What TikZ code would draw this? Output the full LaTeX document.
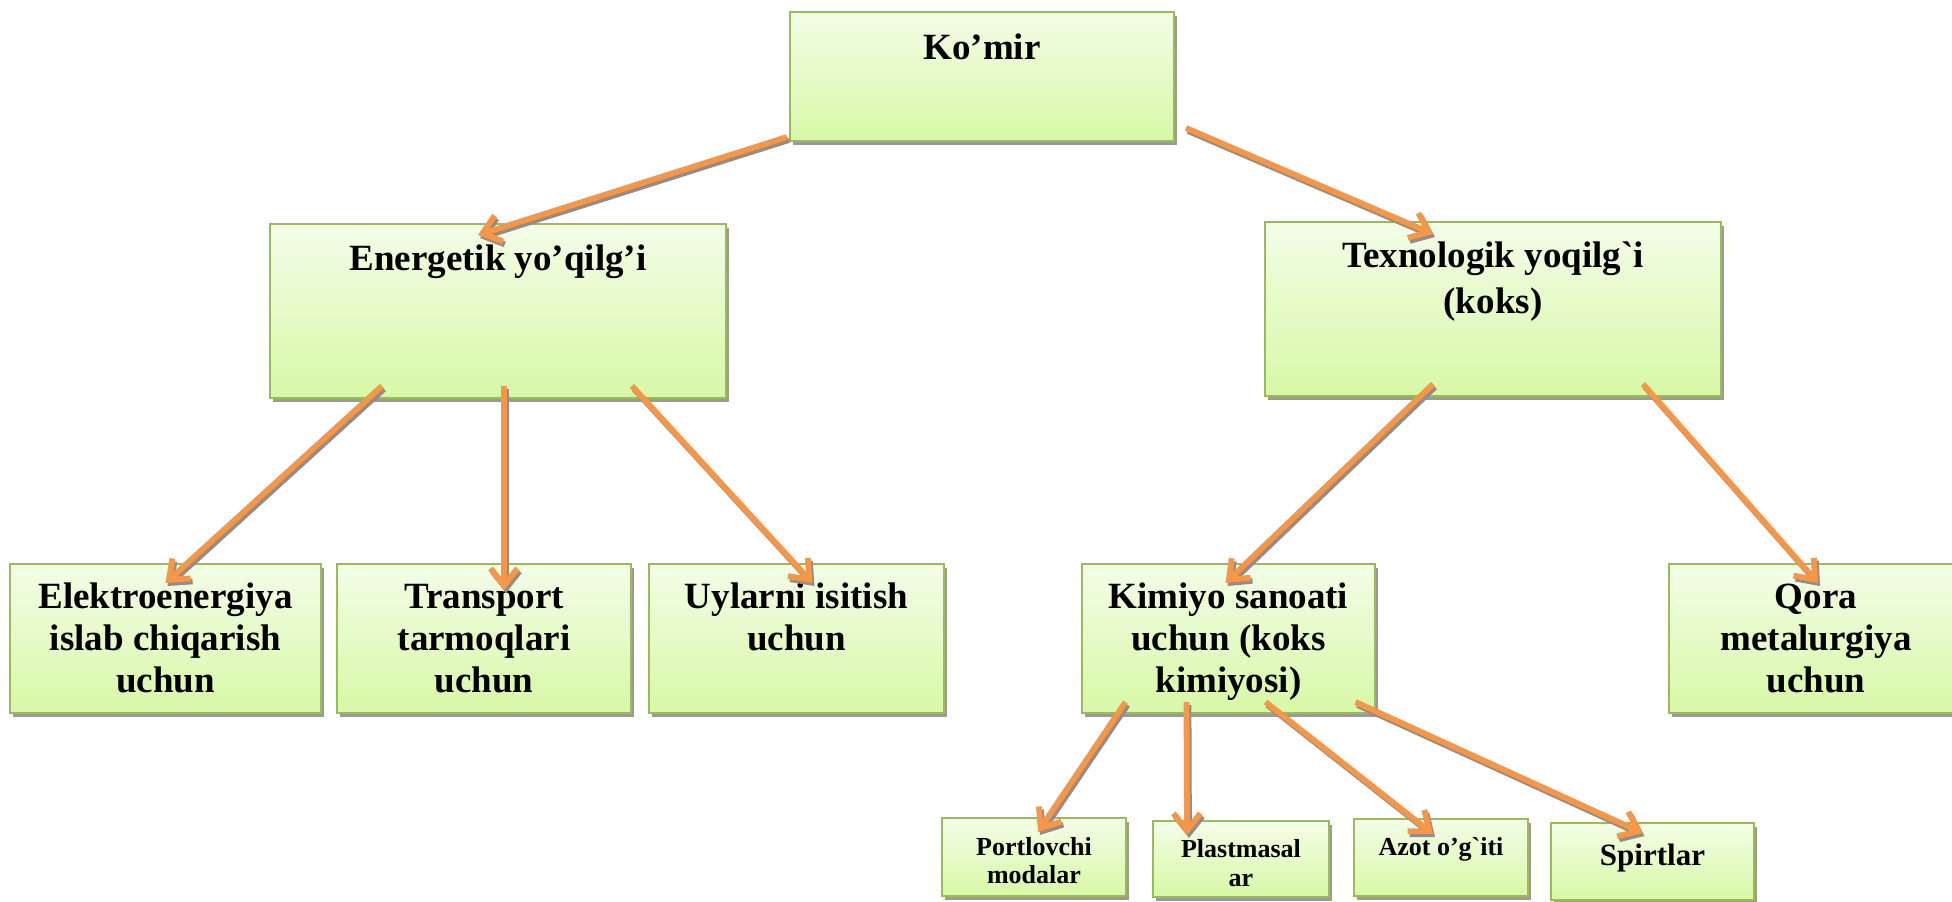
\documentclass[tikz,border=0pt]{standalone}
\usepackage{fontspec}
\setmainfont{Liberation Serif}[Ligatures=TeXOff]
\usetikzlibrary{arrows.meta,shadows,calc}
\definecolor{bordergreen}{HTML}{9BBB59}
\definecolor{toplight}{HTML}{F3FDE7}
\definecolor{botgreen}{HTML}{D8F8A6}
\definecolor{shadowgray}{HTML}{9A9A9A}
\definecolor{arrorange}{HTML}{F79646}
\definecolor{arrshade}{HTML}{8E8E8E}
\newcommand{\bxt}[6]{\parbox[c][#2pt][t]{#1pt}{\centering\bfseries\fontsize{#4pt}{#5pt}\selectfont\rule{0pt}{#3pt}#6\par}}
\begin{document}
\begin{tikzpicture}[x=1pt,y=-1pt,
  cbox/.style={inner sep=0pt, outer sep=0pt, draw=bordergreen, line width=1.8pt,
    top color=toplight, bottom color=botgreen,
    drop shadow={shadow xshift=2.5pt, shadow yshift=-4pt, fill=shadowgray, opacity=1}},
  arr/.style={draw=arrorange, line width=5.8pt, -{Straight Barb[length=17pt,width=27pt]}},
  arrsh/.style={draw=arrshade, line width=5.8pt, -{Straight Barb[length=17pt,width=27pt]},
    transform canvas={shift={(2pt,-3pt)}}}]
\useasboundingbox (0,0) rectangle (1952,902);
\fill[white] (0,0) rectangle (1952,902);
% boxes
\node[cbox] (kom) at (982,76.5) {\bxt{384}{129}{47}{37}{43}{Ko’mir}};
\node[cbox] (ene) at (498,311) {\bxt{456}{174}{46}{37}{43}{Energetik yo’qilg’i}};
\node[cbox] (tex) at (1493,309) {\bxt{456}{174}{45}{37}{46}{Texnologik yoqilg`i\\(koks)}};
\node[cbox] (ele) at (165.5,638.5) {\bxt{311}{149}{44}{37}{42}{Elektroenergiya\\islab chiqarish\\uchun}};
\node[cbox] (tra) at (484,638.5) {\bxt{294}{149}{44}{37}{42}{Transport\\tarmoqlari\\uchun}};
\node[cbox] (uyl) at (796.5,638.5) {\bxt{295}{149}{44}{37}{42}{Uylarni isitish\\uchun}};
\node[cbox] (kim) at (1228.5,638.5) {\bxt{293}{149}{44}{37}{42}{Kimiyo sanoati\\uchun (koks\\kimiyosi)}};
\node[cbox] (qor) at (1816,638.5) {\bxt{294}{149}{44}{37}{42}{Qora\\metalurgiya\\uchun}};
\node[cbox] (por) at (1034,857) {\bxt{184}{78}{37}{26}{28}{Portlovchi\\modalar}};
\node[cbox] (pla) at (1241,859) {\bxt{176}{76}{36}{26}{29}{Plastmasal\\ar}};
\node[cbox] (azo) at (1441,857.5) {\bxt{174}{77}{36}{26}{29}{Azot o’g`iti}};
\node[cbox] (spi) at (1652.5,861.5) {\bxt{203}{77}{42}{31}{36}{Spirtlar}};
% arrow end points
\coordinate (s1) at ([shift={(-3,-4)}]kom.south west);
\coordinate (t1) at ([shift={(-20,11)}]ene.north);
\coordinate (s2) at ([shift={(12,-13)}]kom.south east);
\coordinate (t2) at ([shift={(-60,12)}]tex.north);
\coordinate (s3) at ([shift={(-116,-12)}]ene.south);
\coordinate (t3) at ([shift={(0,19)}]ele.north);
\coordinate (s4) at ([shift={(6,-12)}]ene.south);
\coordinate (t4) at ([shift={(20,26)}]tra.north);
\coordinate (s5) at ([shift={(134,-12)}]ene.south);
\coordinate (t5) at ([shift={(16,19)}]uyl.north);
\coordinate (s6) at ([shift={(-60,-12)}]tex.south);
\coordinate (t6) at ([shift={(-3,19)}]kim.north);
\coordinate (s7) at ([shift={(150,-12)}]tex.south);
\coordinate (t7) at ([shift={(2,19)}]qor.north);
\coordinate (s8) at ([shift={(-103,-11)}]kim.south);
\coordinate (t8) at ([shift={(4,14)}]por.north);
\coordinate (s9) at ([shift={(-42,-11)}]kim.south);
\coordinate (t9) at ([shift={(-54,14)}]pla.north);
\coordinate (s10) at ([shift={(37,-11)}]kim.south);
\coordinate (t10) at ([shift={(-8,15)}]azo.north);
\coordinate (s11) at ([shift={(127,-11)}]kim.south);
\coordinate (t11) at ([shift={(-10,10)}]spi.north);
\foreach \i in {1,...,11}{
  \draw[arrsh] (s\i) -- (t\i);
  \draw[arr] (s\i) -- (t\i);
}
\end{tikzpicture}
\end{document}
